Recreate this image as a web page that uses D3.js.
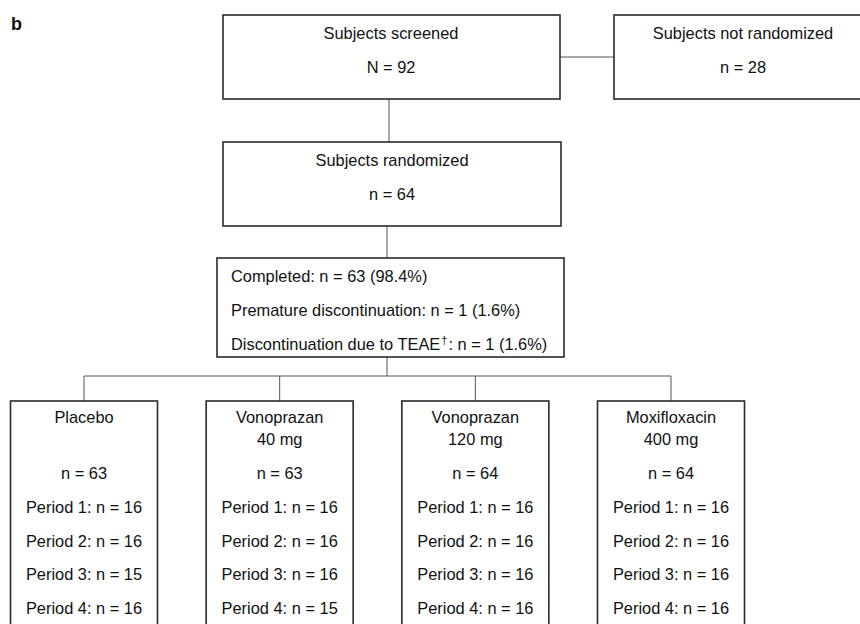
<!DOCTYPE html>
<html>
<head>
<meta charset="utf-8">
<script src="https://cdn.jsdelivr.net/npm/d3@7"></script>
<style>
  body { margin: 0; background: #fff; }
  svg text { font-family: "Liberation Sans", Arial, sans-serif; fill: #111; }
</style>
</head>
<body>
<div id="chart"></div>
<script>
// flow boxes, top to bottom
var screened = ["Subjects screened", "N = 92"];
var notRandomized = ["Subjects not randomized", "n = 28"];
var randomized = ["Subjects randomized", "n = 64"];
var completion = ["Completed: n = 63 (98.4%)", "Premature discontinuation: n = 1 (1.6%)", "Discontinuation due to TEAE"];
var teaeTail = ": n = 1 (1.6%)";

// treatment arms
var arms = ["Placebo", "Vonoprazan", "Vonoprazan", "Moxifloxacin"];
var doses = ["", "40 mg", "120 mg", "400 mg"];
var armN = [63, 63, 64, 64];
var periods = ["Period 1", "Period 2", "Period 3", "Period 4"];
var periodN = [
    [16, 16, 15, 16],
    [16, 16, 16, 15],
    [16, 16, 16, 16],
    [16, 16, 16, 16]
];

var W = 860, H = 624, FS = 16.4;
var svg = d3.select("#chart").append("svg")
    .attr("width", W)
    .attr("height", H);

var boxStroke = "#2a2a2a", lineStroke = "#555";

function box(x, y, w, h) {
    svg.append("rect")
        .attr("x", x).attr("y", y)
        .attr("width", w).attr("height", h)
        .attr("fill", "none")
        .attr("stroke", boxStroke)
        .attr("stroke-width", 1.6);
}

function line(x1, y1, x2, y2) {
    svg.append("line")
        .attr("x1", x1).attr("y1", y1)
        .attr("x2", x2).attr("y2", y2)
        .attr("stroke", lineStroke)
        .attr("stroke-width", 1);
}

function label(txt, x, y, anchor) {
    return svg.append("text")
        .attr("x", x).attr("y", y + 6)
        .attr("text-anchor", anchor || "middle")
        .attr("font-size", FS)
        .text(txt);
}

// panel letter
svg.append("text")
    .attr("x", 11).attr("y", 30)
    .attr("font-size", 18)
    .attr("font-weight", "bold")
    .text("b");

// connectors first so boxes sit on top
line(560, 57, 614, 57);
line(389, 99, 389, 142);
line(387, 226, 387, 258);
line(387, 357, 387, 376);

var xArm = d3.scalePoint().domain(d3.range(arms.length)).range([84, 671]);
line(xArm(0), 376, xArm(arms.length - 1), 376);
arms.forEach(function(a, i) { line(xArm(i), 376, xArm(i), 401); });

// screened / not randomized
box(223, 15, 337, 84);
label(screened[0], 391, 33);
label(screened[1], 391, 67);

box(614, 15, 260, 84);
label(notRandomized[0], 743, 33);
label(notRandomized[1], 743, 67);

// randomized
box(223, 142, 338, 84);
label(randomized[0], 392, 160);
label(randomized[1], 392, 194);

// completion summary
box(217, 258, 347, 99);
var yComp = d3.scalePoint().domain(d3.range(completion.length)).range([276, 344]);
completion.forEach(function(t, i) {
    var el = label(t, 231, yComp(i), "start");
    if (i === completion.length - 1) {
        el.append("tspan").attr("font-size", 11).attr("dx", 1).attr("dy", -6).text("\u2020");
        el.append("tspan").attr("dx", 1).attr("dy", 6).text(teaeTail);
    }
});

// arm boxes
var yPeriod = d3.scalePoint().domain(d3.range(periods.length)).range([507, 608]);
arms.forEach(function(a, i) {
    var cx = xArm(i);
    box(cx - 73.5, 401, 147, 250);
    label(a, cx, 417);
    if (doses[i]) label(doses[i], cx, 439);
    label("n = " + armN[i], cx, 473);
    periods.forEach(function(p, j) {
        label(p + ": n = " + periodN[i][j], cx, yPeriod(j));
    });
});
</script>
</body>
</html>
